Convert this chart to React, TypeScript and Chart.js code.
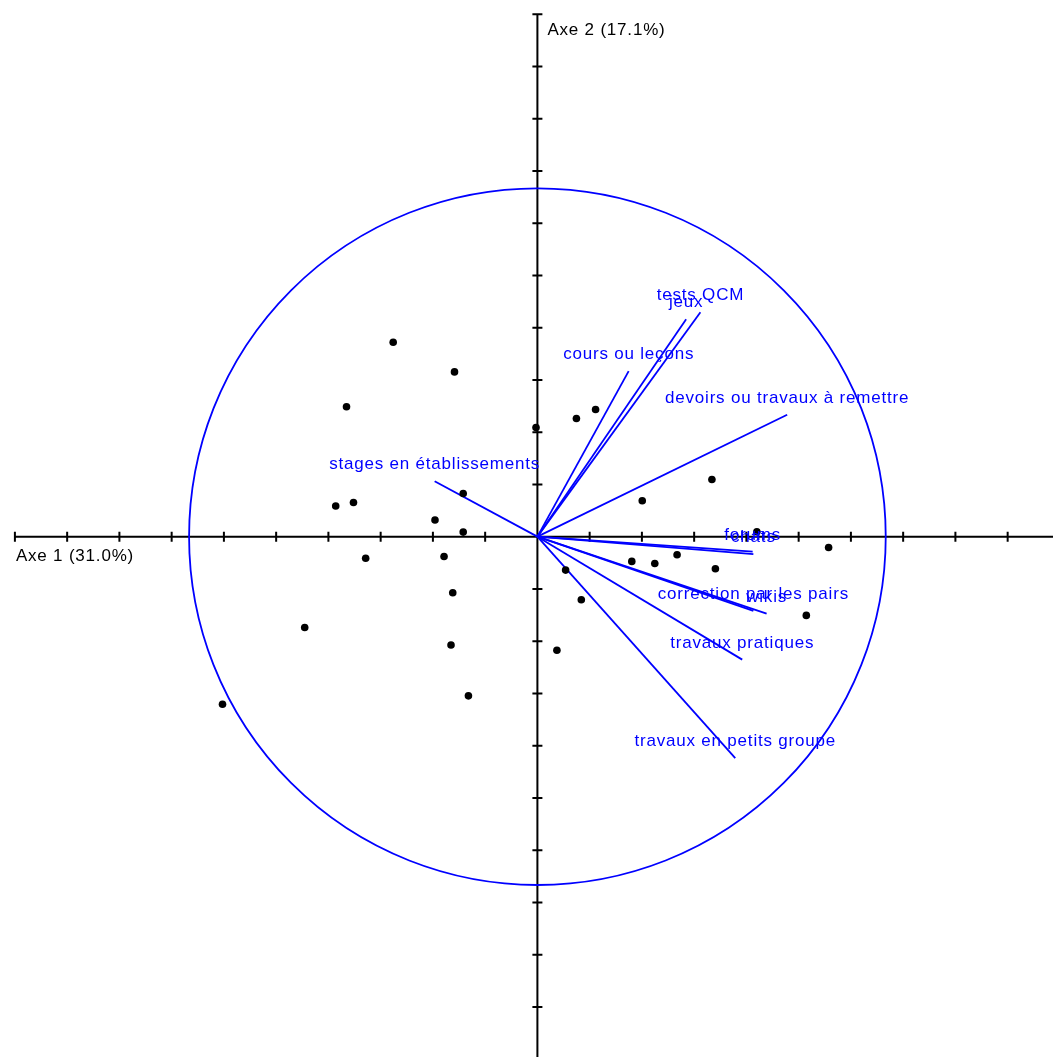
import React, { useEffect, useRef } from "react";
import { Chart, registerables } from "chart.js";

Chart.register(...registerables);

// Variable vectors (correlation circle)
const vectorNames = [
  "tests QCM",
  "jeux",
  "cours ou leçons",
  "devoirs ou travaux à remettre",
  "stages en établissements",
  "forums",
  "chats",
  "correction par les pairs",
  "wikis",
  "travaux pratiques",
  "travaux en petits groupe",
];
const vectorX = [0.468, 0.427, 0.262, 0.717, -0.295, 0.618, 0.62, 0.62, 0.658, 0.588, 0.568];
const vectorY = [0.644, 0.624, 0.475, 0.35, 0.159, -0.043, -0.05, -0.213, -0.221, -0.353, -0.636];

// Individuals
const pointX = [
  -0.414, -0.238, -0.548, -0.004, 0.112, 0.167, -0.213, 0.501, 0.301, -0.579,
  -0.528, -0.294, -0.213, 0.63, 0.836, 0.271, 0.337, 0.401, 0.511, -0.493,
  -0.268, 0.081, -0.243, 0.126, 0.772, -0.668, -0.248, 0.056, -0.198, -0.904,
];
const pointY = [
  0.558, 0.473, 0.373, 0.313, 0.339, 0.365, 0.124, 0.164, 0.103, 0.088,
  0.098, 0.048, 0.013, 0.014, -0.031, -0.071, -0.077, -0.052, -0.092, -0.062,
  -0.057, -0.096, -0.161, -0.181, -0.226, -0.261, -0.311, -0.326, -0.457, -0.481,
];

const axisTicks = [
  -1.5, -1.35, -1.2, -1.05, -0.9, -0.75, -0.6, -0.45, -0.3, -0.15, 0,
  0.15, 0.3, 0.45, 0.6, 0.75, 0.9, 1.05, 1.2, 1.35, 1.5,
];
const axisTitles = ["Axe 1 (31.0%)", "Axe 2 (17.1%)"];

const BLUE = "#0000ff";
const FONT = '17px "Liberation Sans", Arial, sans-serif';
const SPACING = "0.8px";

const pcaPlugin = {
  id: "pcaDecor",
  beforeDatasetsDraw(chart: any) {
    const { ctx } = chart;
    const xs = chart.scales.x;
    const ys = chart.scales.y;
    const x0 = xs.getPixelForValue(0);
    const y0 = ys.getPixelForValue(0);
    const first = axisTicks[0];
    const last = axisTicks[axisTicks.length - 1];
    ctx.save();
    ctx.strokeStyle = "#000";
    ctx.lineWidth = 2;
    ctx.beginPath();
    ctx.moveTo(xs.getPixelForValue(first), y0);
    ctx.lineTo(chart.width, y0);
    ctx.moveTo(x0, ys.getPixelForValue(last));
    ctx.lineTo(x0, chart.height);
    for (const t of axisTicks) {
      if (t === 0) continue;
      const px = xs.getPixelForValue(t);
      ctx.moveTo(px, y0 - 5);
      ctx.lineTo(px, y0 + 5);
      const py = ys.getPixelForValue(t);
      ctx.moveTo(x0 - 5, py);
      ctx.lineTo(x0 + 5, py);
    }
    ctx.stroke();

    // correlation circle of radius 1
    ctx.strokeStyle = BLUE;
    ctx.lineWidth = 1.8;
    ctx.beginPath();
    ctx.ellipse(
      x0,
      y0,
      Math.abs(xs.getPixelForValue(1) - x0),
      Math.abs(ys.getPixelForValue(1) - y0),
      0,
      0,
      Math.PI * 2
    );
    ctx.stroke();

    // axis titles
    ctx.fillStyle = "#000";
    ctx.font = FONT;
    (ctx as any).letterSpacing = SPACING;
    ctx.textAlign = "left";
    ctx.textBaseline = "alphabetic";
    ctx.fillText(axisTitles[0], xs.getPixelForValue(first) + 1, y0 + 24);
    ctx.fillText(axisTitles[1], x0 + 10, ys.getPixelForValue(last) + 21);
    ctx.restore();
  },
  afterDatasetsDraw(chart: any) {
    const { ctx } = chart;
    const xs = chart.scales.x;
    const ys = chart.scales.y;
    ctx.save();
    ctx.fillStyle = BLUE;
    ctx.font = FONT;
    (ctx as any).letterSpacing = SPACING;
    ctx.textAlign = "center";
    ctx.textBaseline = "alphabetic";
    vectorNames.forEach((name, i) => {
      const px = xs.getPixelForValue(vectorX[i]);
      const py = ys.getPixelForValue(vectorY[i]);
      ctx.fillText(name, px, py - 12);
    });
    ctx.restore();
  },
};

export default function App() {
  const ref = useRef<HTMLCanvasElement | null>(null);

  useEffect(() => {
    if (!ref.current) return;
    const vectorSets = vectorNames.map((name, i) => ({
      type: "scatter" as const,
      label: name,
      data: [
        { x: 0, y: 0 },
        { x: vectorX[i], y: vectorY[i] },
      ],
      showLine: true,
      borderColor: BLUE,
      borderWidth: 1.8,
      pointRadius: 0,
      order: 1,
    }));
    const pointSet = {
      type: "scatter" as const,
      label: "individus",
      data: pointX.map((x, i) => ({ x, y: pointY[i] })),
      showLine: false,
      pointRadius: 3.8,
      pointBackgroundColor: "#000",
      pointBorderColor: "#000",
      pointBorderWidth: 0,
      order: 0,
    };
    const chart = new Chart(ref.current, {
      type: "scatter",
      data: { datasets: [...vectorSets, pointSet] as any },
      options: {
        animation: false,
        responsive: false,
        devicePixelRatio: 1,
        layout: { padding: 0 },
        plugins: {
          legend: { display: false },
          tooltip: { enabled: false },
          title: { display: false },
        },
        scales: {
          x: { type: "linear", min: -1.5313, max: 1.4687, display: false },
          y: { type: "linear", min: -1.4823, max: 1.5291, display: false },
        },
      },
      plugins: [pcaPlugin],
    });
    return () => chart.destroy();
  }, []);

  return (
    <div style={{ position: "fixed", left: 0, top: 0, width: 1053, height: 1057, background: "#fff" }}>
      <canvas ref={ref} width={1053} height={1057} style={{ display: "block" }} />
    </div>
  );
}
